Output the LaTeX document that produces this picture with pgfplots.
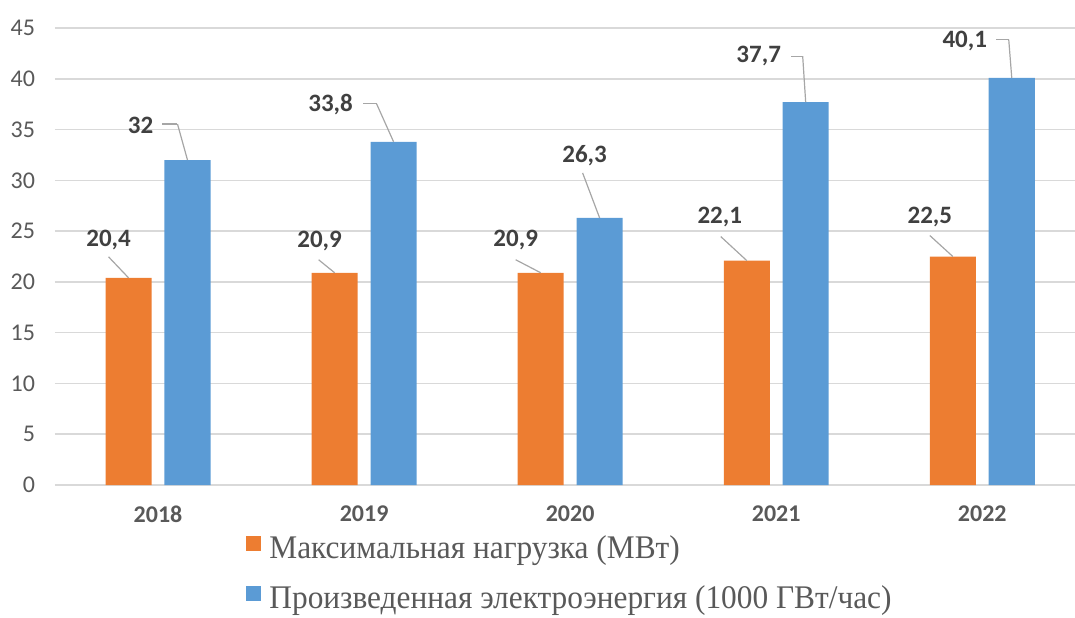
\documentclass[border=0pt]{standalone}
\usepackage{fontspec}
\setmainfont{Carlito}
\newfontfamily\legfont[FakeStretch=0.95]{Liberation Serif}
\usepackage{pgfplots}
\pgfplotsset{compat=1.18}
\usepackage{pgfplotstable}

\definecolor{orangeC}{HTML}{ED7D31}
\definecolor{blueC}{HTML}{5B9BD5}
\definecolor{gridC}{HTML}{D9D9D9}
\definecolor{tickC}{HTML}{595959}
\definecolor{labelC}{HTML}{404040}
\definecolor{leaderC}{HTML}{A6A6A6}

% y = value; lx,ly = label centre, bx,by = bend, ex,ey = line end (px from bar top)
\pgfplotstableread{
x y    lx  ly bx  by ex  ey
0 20.4 -20 38 -20 21 -20 21
1 20.9 -15 32 -16 13 -16 13
2 20.9 -25 33 -25 13 -25 13
3 22.1 -27 44 -26 24 -26 24
4 22.5 -23 40 -23 21 -23 21
}\orangetab

\pgfplotstableread{
x y    lx  ly bx  by ex  ey
0 32.0 -47 35 -10 36 -25 36
1 33.8 -63 37 -17 38 -31 38
2 26.3 -15 62 -17 45 -17 45
3 37.7 -47 46 -3  46 -15 46
4 40.1 -47 37 -3  38 -16 38
}\bluetab

\begin{document}
\begin{tikzpicture}
\path[use as bounding box] (-27.5pt,-66pt) rectangle (510pt,242.5pt);
\begin{axis}[
    at={(0,0)}, anchor=south west,
    scale only axis,
    width=510pt, height=228.5pt,
    xmin=-0.5, xmax=4.45,
    ymin=0, ymax=45,
    clip=false,
    axis line style={draw=none},
    tick style={draw=none},
    ymajorgrids,
    grid style={line width=0.75pt, gridC},
    ytick={0,5,...,45},
    xtick={0,1,2,3,4},
    xticklabels={2018,2019,2020,2021,2022},
    ticklabel style={font=\fontsize{12}{14}\selectfont, text=tickC},
    xticklabel style={font=\bfseries\fontsize{12}{14}\selectfont, yshift=-7pt},
    yticklabel style={xshift=-6.5pt},
    /pgf/number format/assume math mode=true,
    /pgf/number format/use comma,
    /pgf/number format/fixed,
    /pgf/number format/precision=1,
    visualization depends on={\thisrow{lx} \as \lx},
    visualization depends on={\thisrow{ly} \as \ly},
    every node near coord/.style={anchor=center, xshift=\lx*0.5pt, yshift=\ly*0.5pt,
        font=\bfseries\fontsize{12.5}{14}\selectfont, text=labelC},
    legend cell align=left,
    legend style={at={(0.1873,-0.1116)}, anchor=north west, draw=none, fill=none,
        inner sep=0pt, font=\legfont\fontsize{16.5}{19}\selectfont, text=tickC,
        row sep=11pt, nodes={inner sep=0pt, text height=11pt, text depth=3pt},
        /tikz/every odd column/.style={column sep=4pt}},
]
\addplot[ybar, bar width=0.2233, bar shift=0pt, fill=orangeC, draw=none,
    nodes near coords,
    legend image code/.code={\fill[orangeC] (0pt,-0.5pt) rectangle (7.5pt,7pt);}]
    table[x expr=\thisrow{x}-0.143, y=y] {\orangetab};
\addlegendentry{Максимальная нагрузка (МВт)}
\addplot[ybar, bar width=0.2233, bar shift=0pt, fill=blueC, draw=none,
    nodes near coords,
    legend image code/.code={\fill[blueC] (0pt,-0.5pt) rectangle (7.5pt,7pt);}]
    table[x expr=\thisrow{x}+0.143, y=y] {\bluetab};
\addlegendentry{Произведенная электроэнергия (1000 ГВт/час)}

% leader lines
\addplot[forget plot, leaderC, line width=0.6pt,
    quiver={u=\thisrow{bx}/206.06, v=\thisrow{by}/10.156}]
    table[x expr=\thisrow{x}-0.143, y=y] {\orangetab};
\addplot[forget plot, leaderC, line width=0.6pt,
    quiver={u=\thisrow{bx}/206.06, v=\thisrow{by}/10.156}]
    table[x expr=\thisrow{x}+0.143, y=y] {\bluetab};
\addplot[forget plot, leaderC, line width=0.6pt,
    quiver={u=(\thisrow{ex}-\thisrow{bx})/206.06, v=0}]
    table[x expr=\thisrow{x}+0.143+\thisrow{bx}/206.06,
          y expr=\thisrow{y}+\thisrow{by}/10.156] {\bluetab};
\end{axis}
\end{tikzpicture}
\end{document}
